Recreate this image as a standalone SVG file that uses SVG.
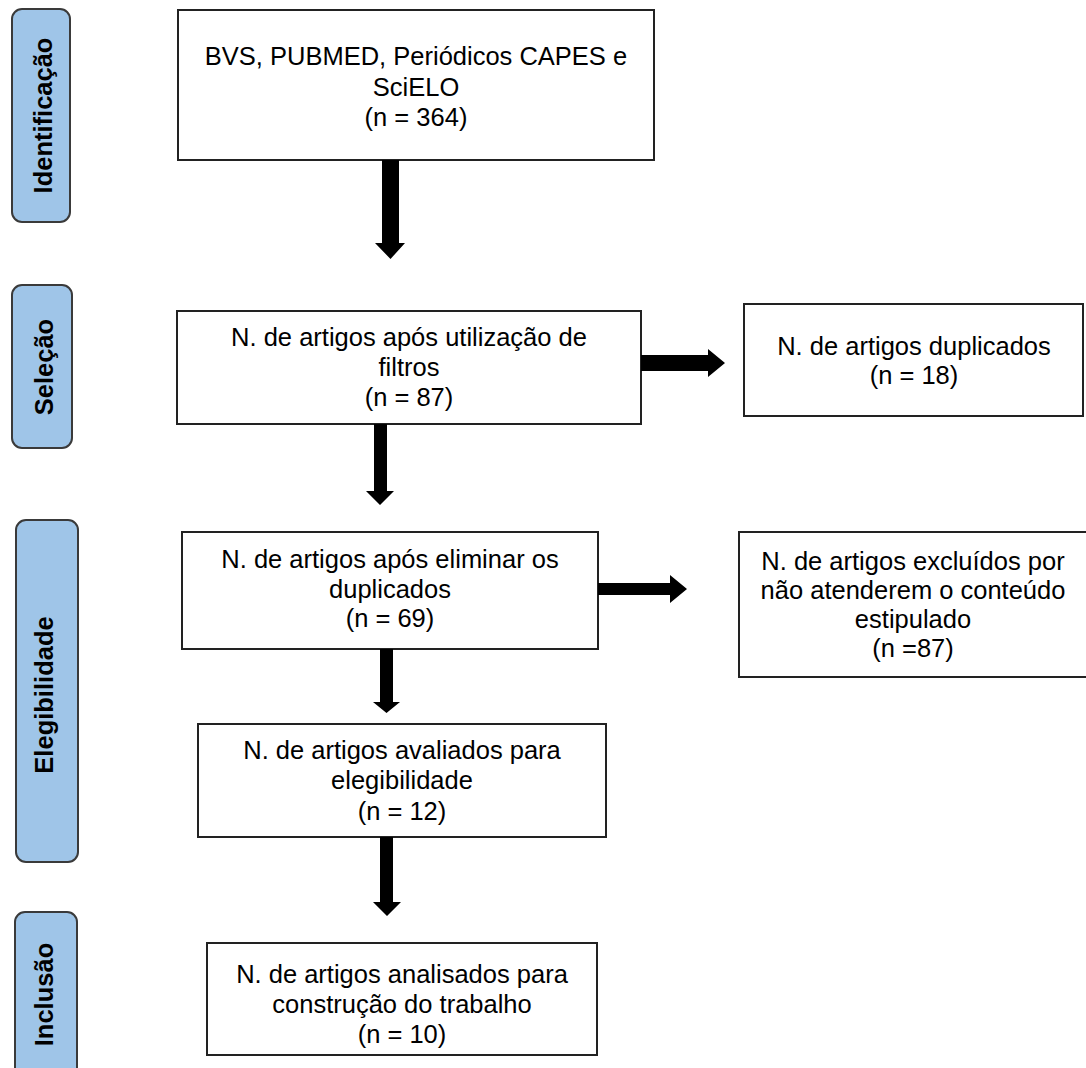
<svg xmlns="http://www.w3.org/2000/svg" width="1086" height="1068" viewBox="0 0 1086 1068">
<style>
.lab{fill:#9fc5e8;stroke:#3a3a3a;stroke-width:2}
.labt{font-family:"Liberation Sans",Arial,sans-serif;font-size:25.5px;font-weight:bold;fill:#000;text-anchor:middle}
.box{fill:#fff;stroke:#222;stroke-width:2}
.t{font-family:"Liberation Sans",Arial,sans-serif;font-size:25.5px;fill:#000;text-anchor:middle}
.arr{fill:#000}
</style>
<rect width="1086" height="1068" fill="#fff"/>
<g id="label-identificacao">
<rect class="lab" x="12" y="9" width="58" height="213" rx="10"/>
<text class="labt" transform="translate(52,115.5) rotate(-90)">Identificação</text>
</g>
<g id="label-selecao">
<rect class="lab" x="12" y="285" width="60" height="163" rx="10"/>
<text class="labt" transform="translate(52.5,367) rotate(-90)">Seleção</text>
</g>
<g id="label-elegibilidade">
<rect class="lab" x="16" y="520" width="62" height="342" rx="10"/>
<text class="labt" transform="translate(52.5,695) rotate(-90)">Elegibilidade</text>
</g>
<g id="label-inclusao">
<rect class="lab" x="15" y="912" width="62" height="170" rx="10"/>
<text class="labt" transform="translate(53,994.5) rotate(-90)">Inclusão</text>
</g>
<g id="n-identificacao">
<rect class="box" x="178" y="10" width="476" height="150"/>
<text class="t" x="416" y="65">BVS, PUBMED, Periódicos CAPES e</text>
<text class="t" x="416" y="96">SciELO</text>
<text class="t" x="416" y="126">(n = 364)</text>
</g>
<g id="n-filtros">
<rect class="box" x="177" y="311" width="464" height="113"/>
<text class="t" x="409" y="346">N. de artigos após utilização de</text>
<text class="t" x="409" y="376">filtros</text>
<text class="t" x="409" y="406">(n = 87)</text>
</g>
<g id="n-duplicados">
<rect class="box" x="744" y="304" width="339" height="112"/>
<text class="t" x="914" y="355">N. de artigos duplicados</text>
<text class="t" x="914" y="384">(n = 18)</text>
</g>
<g id="n-eliminar">
<rect class="box" x="182" y="532" width="416" height="117"/>
<text class="t" x="390" y="568">N. de artigos após eliminar os</text>
<text class="t" x="390" y="597.5">duplicados</text>
<text class="t" x="390" y="627">(n = 69)</text>
</g>
<g id="n-excluidos">
<rect class="box" x="739" y="532" width="350" height="145"/>
<text class="t" x="913" y="570">N. de artigos excluídos por</text>
<text class="t" x="913" y="599">não atenderem o conteúdo</text>
<text class="t" x="913" y="628">estipulado</text>
<text class="t" x="913" y="657">(n =87)</text>
</g>
<g id="n-avaliados">
<rect class="box" x="198" y="724" width="408" height="113"/>
<text class="t" x="402" y="759">N. de artigos avaliados para</text>
<text class="t" x="402" y="789">elegibilidade</text>
<text class="t" x="402" y="820">(n = 12)</text>
</g>
<g id="n-analisados">
<rect class="box" x="207" y="943" width="390" height="112"/>
<text class="t" x="402" y="983">N. de artigos analisados para</text>
<text class="t" x="402" y="1013">construção do trabalho</text>
<text class="t" x="402" y="1043">(n = 10)</text>
</g>
<g id="connectors">
<polygon class="arr" points="382,160 399,160 399,243 405,243 390.5,259 375,243 382,243"/>
<polygon class="arr" points="641,355 708,355 708,349 725,363 708,377 708,371 641,371"/>
<polygon class="arr" points="374,424 387,424 387,491 394,491 380,505 366,491 374,491"/>
<polygon class="arr" points="598,583 670,583 670,575 687,589 670,603 670,595 598,595"/>
<polygon class="arr" points="380,649 393,649 393,702 400,702 386.5,713 373,702 380,702"/>
<polygon class="arr" points="380,837 393,837 393,902 401,902 387,916 373,902 380,902"/>
</g>
</svg>
